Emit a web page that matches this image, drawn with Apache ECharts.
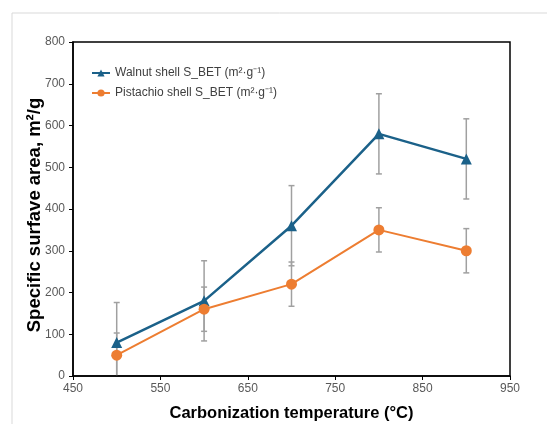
<!DOCTYPE html>
<html><head><meta charset="utf-8">
<script src="https://cdn.jsdelivr.net/npm/echarts@6/dist/echarts.min.js"></script>
<style>html,body{margin:0;padding:0;background:#fff}#c{width:547px;height:424px}</style>
</head><body><div id="c"></div>
<script>
const temps = [500, 600, 700, 800, 900];
const walnut = [80, 180, 360, 580, 520];
const walnutErr = [96, 96, 96, 96, 96];
const pistachio = [50, 160, 220, 350, 300];
const pistachioErr = [53, 53, 53, 53, 53];
const xTicks = [450, 550, 650, 750, 850, 950];
const yTicks = [0, 100, 200, 300, 400, 500, 600, 700, 800];

const chart = echarts.init(document.getElementById('c'));
function errData(vals, errs){ return temps.map((t,i)=>[t, vals[i]-errs[i], vals[i]+errs[i]]); }
function errRender(params, api){
  const x = api.value(0), lo = api.value(1), hi = api.value(2);
  const pHi = api.coord([x, hi]), pLo = api.coord([x, lo]);
  const w = 3;
  const st = {stroke:'#a0a0a0', lineWidth:1.5};
  return {type:'group', children:[
    {type:'line', shape:{x1:pHi[0],y1:pHi[1],x2:pLo[0],y2:pLo[1]}, style:st},
    {type:'line', shape:{x1:pHi[0]-w,y1:pHi[1],x2:pHi[0]+w,y2:pHi[1]}, style:st},
    {type:'line', shape:{x1:pLo[0]-w,y1:pLo[1],x2:pLo[0]+w,y2:pLo[1]}, style:st}
  ]};
}
const blue = '#1b6189', orange = '#ed7d31';
chart.setOption({
  animation:false,
  graphic:[{type:'polyline', shape:{points:[[12,424],[12,13],[547,13]]}, style:{stroke:'#d9d9d9', lineWidth:1, fill:null}, z:-1},
           {type:'rect', shape:{x:73,y:42,width:437,height:334}, style:{stroke:'#000', lineWidth:1.5, fill:null}, z:10, silent:true}],
  grid:{left:73, top:42, right:37, bottom:48, containLabel:false, outerBoundsMode:'none'},
  legend:{left:91, top:67, padding:0, orient:'vertical', itemGap:8, itemWidth:18, itemHeight:9,
    textStyle:{fontFamily:'Liberation Sans, Arial', fontSize:12, color:'#404040'},
    data:['Walnut shell S_BET (m²·g⁻¹)','Pistachio shell S_BET (m²·g⁻¹)']},
  xAxis:{type:'value', min:450, max:950, interval:100,
    name:'Carbonization temperature (°C)', nameLocation:'middle', nameGap:29, nameMoveOverlap:false,
    nameTextStyle:{fontFamily:'Liberation Sans, Arial', fontWeight:'bold', fontSize:16.5, color:'#000'},
    axisLine:{show:true, lineStyle:{color:'#000', width:1.5}},
    axisTick:{show:true, length:4, lineStyle:{color:'#000'}},
    axisLabel:{fontFamily:'Liberation Sans, Arial', fontSize:12, color:'#595959', margin:7},
    splitLine:{show:false}},
  yAxis:{type:'value', min:0, max:800, interval:100,
    name:'Specific surfave area, m²/g', nameLocation:'middle', nameGap:29, nameMoveOverlap:false,
    nameTextStyle:{fontFamily:'Liberation Sans, Arial', fontWeight:'bold', fontSize:18.5, color:'#000', padding:[0,12,0,0]},
    axisLine:{show:true, lineStyle:{color:'#000', width:1.5}},
    axisTick:{show:true, length:4, lineStyle:{color:'#000'}},
    axisLabel:{fontFamily:'Liberation Sans, Arial', fontSize:12, color:'#595959', margin:8},
    splitLine:{show:false}},
  series:[
    {type:'custom', name:'werr', data:errData(walnut, walnutErr), renderItem:errRender, clip:true, z:1, encode:{x:0,y:[1,2]}},
    {type:'custom', name:'perr', data:errData(pistachio, pistachioErr), renderItem:errRender, clip:true, z:1, encode:{x:0,y:[1,2]}},
    {type:'line', name:'Walnut shell S_BET (m²·g⁻¹)', data:temps.map((t,i)=>[t,walnut[i]]),
      symbol:'triangle', symbolSize:11, itemStyle:{color:blue}, lineStyle:{color:blue, width:2.5}, z:3},
    {type:'line', name:'Pistachio shell S_BET (m²·g⁻¹)', data:temps.map((t,i)=>[t,pistachio[i]]),
      symbol:'circle', symbolSize:11, itemStyle:{color:orange}, lineStyle:{color:orange, width:2}, z:3}
  ]
});
</script></body></html>
